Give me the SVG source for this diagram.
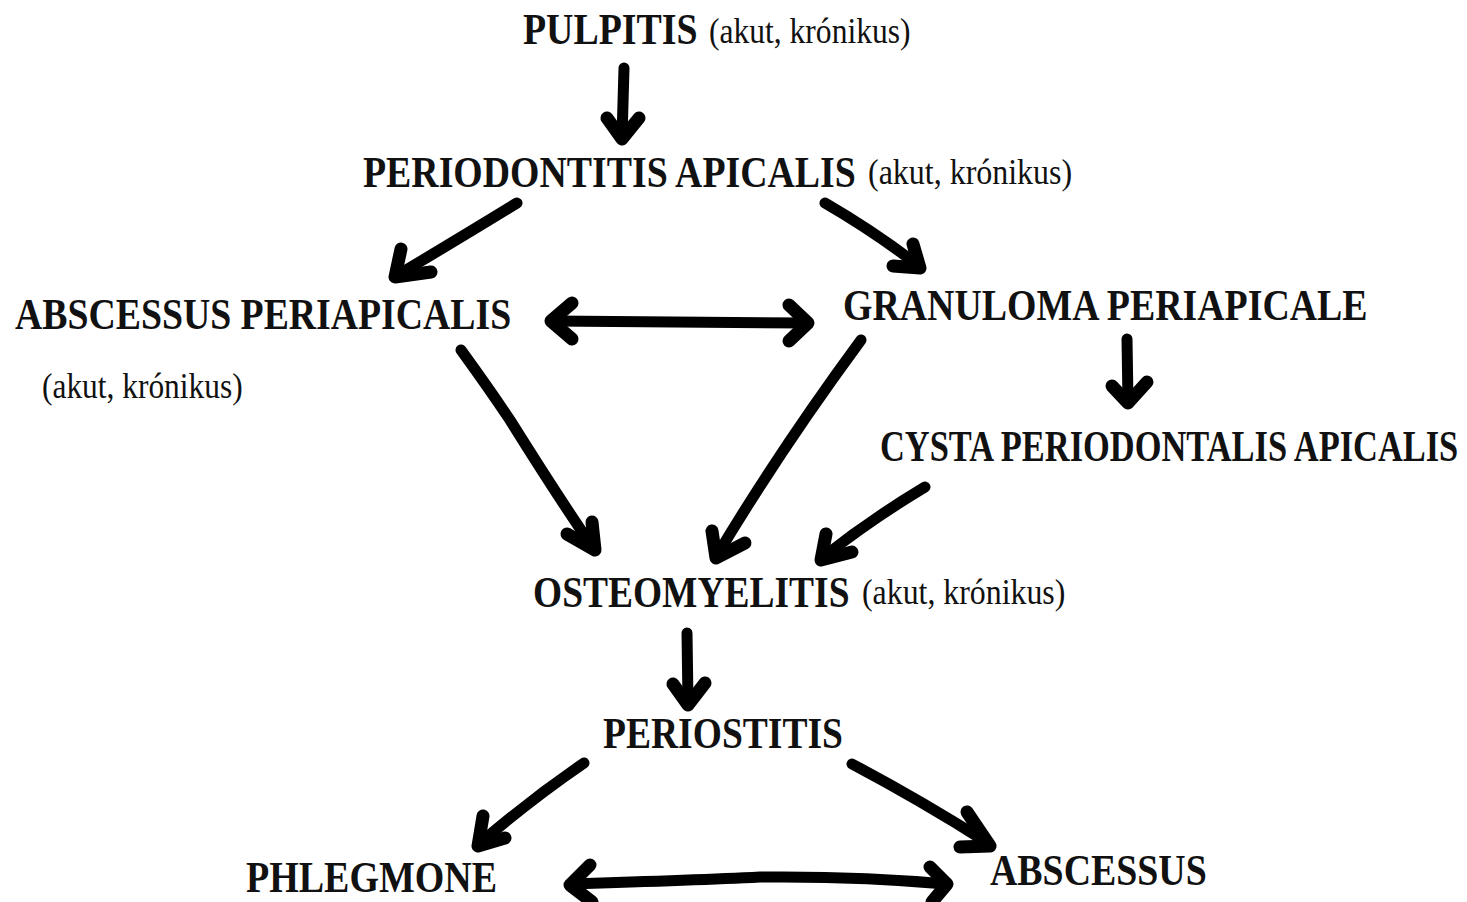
<svg xmlns="http://www.w3.org/2000/svg" width="1467" height="902" viewBox="0 0 1467 902">
<style>
.b{font-family:"Liberation Serif","Times New Roman",serif;font-weight:bold;font-size:44px;fill:#111}
.r{font-family:"Liberation Serif","Times New Roman",serif;font-size:36px;fill:#111}
.ln{fill:none;stroke:#000;stroke-width:11;stroke-linecap:round;stroke-linejoin:round}
.hd{fill:none;stroke:#000;stroke-width:13;stroke-linecap:round;stroke-linejoin:round}
</style>
<rect width="1467" height="902" fill="#fff"/>
<g id="pulpitis">
<text class="b" transform="translate(523,44) scale(0.86,1)" textLength="203" lengthAdjust="spacingAndGlyphs">PULPITIS</text>
<text class="r" transform="translate(709,43) scale(0.88,1)" textLength="229" lengthAdjust="spacingAndGlyphs">(akut, krónikus)</text>
</g>
<g id="periodontitis">
<text class="b" transform="translate(363,187) scale(0.86,1)" textLength="573" lengthAdjust="spacingAndGlyphs">PERIODONTITIS APICALIS</text>
<text class="r" transform="translate(868,184) scale(0.88,1)" textLength="232" lengthAdjust="spacingAndGlyphs">(akut, krónikus)</text>
</g>
<g id="abscessus-periapicalis">
<text class="b" transform="translate(15,329) scale(0.86,1)" textLength="577" lengthAdjust="spacingAndGlyphs">ABSCESSUS PERIAPICALIS</text>
<text class="r" transform="translate(42,398) scale(0.88,1)" textLength="228" lengthAdjust="spacingAndGlyphs">(akut, krónikus)</text>
</g>
<g id="granuloma">
<text class="b" transform="translate(843,320) scale(0.86,1)" textLength="610" lengthAdjust="spacingAndGlyphs">GRANULOMA PERIAPICALE</text>
</g>
<g id="cysta">
<text class="b" transform="translate(880,461) scale(0.77,1)" textLength="751" lengthAdjust="spacingAndGlyphs">CYSTA PERIODONTALIS APICALIS</text>
</g>
<g id="osteomyelitis">
<text class="b" transform="translate(533,607) scale(0.86,1)" textLength="368" lengthAdjust="spacingAndGlyphs">OSTEOMYELITIS</text>
<text class="r" transform="translate(862,604) scale(0.88,1)" textLength="231" lengthAdjust="spacingAndGlyphs">(akut, krónikus)</text>
</g>
<g id="periostitis">
<text class="b" transform="translate(603,748) scale(0.86,1)" textLength="279" lengthAdjust="spacingAndGlyphs">PERIOSTITIS</text>
</g>
<g id="phlegmone">
<text class="b" transform="translate(246,892) scale(0.86,1)" textLength="292" lengthAdjust="spacingAndGlyphs">PHLEGMONE</text>
</g>
<g id="abscessus">
<text class="b" transform="translate(990,885) scale(0.86,1)" textLength="252" lengthAdjust="spacingAndGlyphs">ABSCESSUS</text>
</g>
<g id="connectors">
<path class="ln" d="M624 68 L622 138"/>
<polyline class="hd" points="607,118 622,139 639,118"/>
<path class="ln" d="M517 203 Q460 238 396 276"/>
<polyline class="hd" points="401,249 395,277 431,272"/>
<path class="ln" d="M825 203 Q875 232 919 266"/>
<polyline class="hd" points="913,244 920,268 893,266"/>
<path class="ln" d="M553 321 L806 323"/>
<polyline class="hd" points="572,303 551,321 572,339"/>
<polyline class="hd" points="789,305 808,323 789,341"/>
<path class="ln" d="M461 350 Q490 390 510 420 Q560 500 594 549"/>
<polyline class="hd" points="592,522 595,550 567,534"/>
<path class="ln" d="M861 340 Q780 450 716 557"/>
<polyline class="hd" points="712,531 716,558 745,543"/>
<path class="ln" d="M1127 339 L1128 402"/>
<polyline class="hd" points="1112,386 1128,403 1147,382"/>
<path class="ln" d="M925 487 Q870 520 822 558"/>
<polyline class="hd" points="826,534 821,560 852,552"/>
<path class="ln" d="M687 633 L688 703"/>
<polyline class="hd" points="673,684 688,705 705,683"/>
<path class="ln" d="M584 763 Q530 800 479 844"/>
<polyline class="hd" points="483,816 478,846 505,838"/>
<path class="ln" d="M852 764 Q920 800 988 843"/>
<polyline class="hd" points="967,812 990,846 960,847"/>
<path class="ln" d="M570 884 Q700 880 760 877 Q860 876 946 884"/>
<polyline class="hd" points="590,865 570,885 592,902"/>
<polyline class="hd" points="930,867 947,884 932,902"/>
</g>
</svg>
